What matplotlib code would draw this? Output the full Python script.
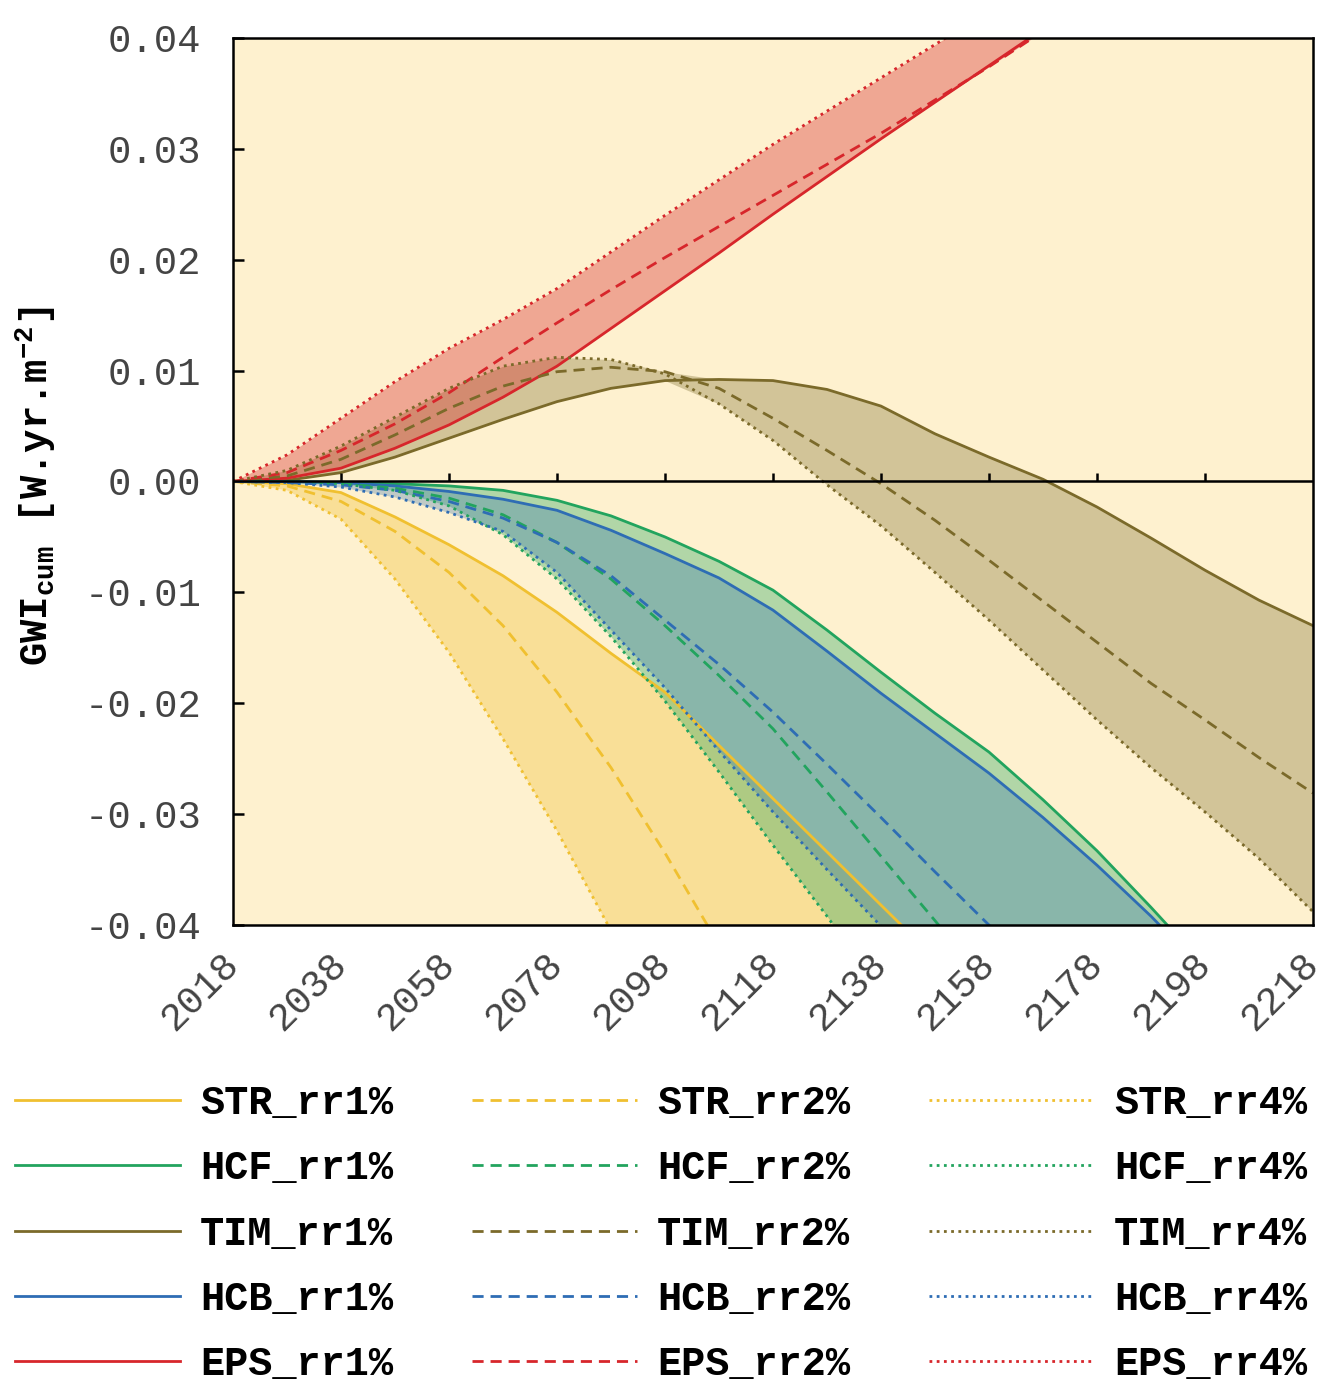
import numpy as np
import matplotlib.pyplot as plt

plt.rcParams['font.family'] = 'Liberation Mono'
plt.rcParams['mathtext.fontset'] = 'custom'
plt.rcParams['mathtext.rm'] = 'Liberation Mono:bold'
plt.rcParams['mathtext.it'] = 'Liberation Mono:bold'
plt.rcParams['mathtext.bf'] = 'Liberation Mono:bold'
plt.rcParams['axes.unicode_minus'] = False

# years every 10 from 2018 to 2218
years = np.arange(2018, 2219, 10)

# cumulative GWI [W.yr.m-2]
STR_rr1 = [0, -0.0002, -0.0010, -0.0032, -0.0057, -0.0085, -0.0118, -0.0155, -0.0190, -0.0238, -0.0286,
           -0.0334, -0.0382, -0.0430, -0.0478, -0.0526, -0.0574, -0.0622, -0.0670, -0.0718, -0.0766]
STR_rr2 = [0, -0.0004, -0.0018, -0.0045, -0.0082, -0.0130, -0.0190, -0.0258, -0.0335, -0.0418, -0.0500,
           -0.0580, -0.0660, -0.0740, -0.0820, -0.0900, -0.0980, -0.1060, -0.1140, -0.1220, -0.1300]
STR_rr4 = [0, -0.0008, -0.0034, -0.0088, -0.0154, -0.0232, -0.0315, -0.0405, -0.0500, -0.0600, -0.0700,
           -0.0800, -0.0900, -0.1000, -0.1100, -0.1200, -0.1300, -0.1400, -0.1500, -0.1600, -0.1700]

HCF_rr1 = [0, 0, -0.0001, -0.0002, -0.0004, -0.0008, -0.0017, -0.0031, -0.0050, -0.0072, -0.0098,
           -0.0134, -0.0172, -0.0209, -0.0244, -0.0287, -0.0333, -0.0384, -0.0437, -0.0490, -0.0545]
HCF_rr2 = [0, 0, -0.0002, -0.0006, -0.0015, -0.0030, -0.0055, -0.0088, -0.0130, -0.0175, -0.0223,
           -0.0280, -0.0338, -0.0396, -0.0455, -0.0515, -0.0575, -0.0635, -0.0695, -0.0755, -0.0815]
HCF_rr4 = [0, 0, -0.0002, -0.0008, -0.0022, -0.0048, -0.0088, -0.0140, -0.0198, -0.0262, -0.0328,
           -0.0392, -0.0460, -0.0530, -0.0600, -0.0670, -0.0740, -0.0810, -0.0880, -0.0950, -0.1020]

TIM_rr1 = [0, 0.0001, 0.0008, 0.0022, 0.0039, 0.0056, 0.0072, 0.0084, 0.0091, 0.0092, 0.0091,
           0.0083, 0.0068, 0.0043, 0.0022, 0.0002, -0.0023, -0.0051, -0.0080, -0.0107, -0.0130]
TIM_rr2 = [0, 0.0005, 0.0020, 0.0042, 0.0066, 0.0086, 0.0099, 0.0103, 0.0099, 0.0084, 0.0057,
           0.0028, -0.0002, -0.0035, -0.0071, -0.0108, -0.0145, -0.0182, -0.0215, -0.0249, -0.0281]
TIM_rr4 = [0, 0.0010, 0.0032, 0.0058, 0.0084, 0.0104, 0.0112, 0.0110, 0.0097, 0.0070, 0.0037,
           -0.0003, -0.0040, -0.0082, -0.0125, -0.0170, -0.0215, -0.0258, -0.0298, -0.0340, -0.0388]

HCB_rr1 = [0, 0, -0.0001, -0.0004, -0.0009, -0.0016, -0.0026, -0.0044, -0.0065, -0.0087, -0.0116,
           -0.0153, -0.0191, -0.0227, -0.0263, -0.0303, -0.0346, -0.0392, -0.0442, -0.0492, -0.0542]
HCB_rr2 = [0, -0.0001, -0.0003, -0.0008, -0.0018, -0.0033, -0.0055, -0.0085, -0.0125, -0.0165, -0.0208,
           -0.0255, -0.0303, -0.0352, -0.0400, -0.0450, -0.0500, -0.0550, -0.0600, -0.0650, -0.0700]
HCB_rr4 = [0, -0.0001, -0.0005, -0.0014, -0.0028, -0.0045, -0.0082, -0.0134, -0.0186, -0.0243, -0.0298,
           -0.0350, -0.0401, -0.0455, -0.0510, -0.0565, -0.0620, -0.0675, -0.0730, -0.0785, -0.0840]

EPS_rr1 = [0, 0.0003, 0.0012, 0.0030, 0.0051, 0.0076, 0.0104, 0.0138, 0.0172, 0.0206, 0.0241,
           0.0275, 0.0309, 0.0342, 0.0375, 0.0408, 0.0441, 0.0474, 0.0507, 0.0540, 0.0573]
EPS_rr2 = [0, 0.0008, 0.0028, 0.0052, 0.0080, 0.0112, 0.0143, 0.0173, 0.0202, 0.0230, 0.0258,
           0.0286, 0.0314, 0.0344, 0.0374, 0.0406, 0.0438, 0.0470, 0.0502, 0.0534, 0.0566]
EPS_rr4 = [0, 0.0024, 0.0057, 0.0090, 0.0120, 0.0146, 0.0174, 0.0207, 0.0240, 0.0272, 0.0304,
           0.0334, 0.0364, 0.0394, 0.0424, 0.0454, 0.0484, 0.0514, 0.0544, 0.0574, 0.0604]

names = ['STR', 'HCF', 'TIM', 'HCB', 'EPS']
series = {'STR': (STR_rr1, STR_rr2, STR_rr4),
          'HCF': (HCF_rr1, HCF_rr2, HCF_rr4),
          'TIM': (TIM_rr1, TIM_rr2, TIM_rr4),
          'HCB': (HCB_rr1, HCB_rr2, HCB_rr4),
          'EPS': (EPS_rr1, EPS_rr2, EPS_rr4)}
colors = {'STR': '#F0C030', 'HCF': '#22A45E', 'TIM': '#7B6A2A', 'HCB': '#2E6DB4', 'EPS': '#D7262B'}
fill_alpha = {'STR': 0.35, 'HCF': 0.35, 'TIM': 0.33, 'HCB': 0.3, 'EPS': 0.36}
rates = ['rr1%', 'rr2%', 'rr4%']
styles = ['-', (0, (4, 2.5)), (0, (1, 1.6))]

xticks = list(range(2018, 2219, 20))
yticks = [-0.04, -0.03, -0.02, -0.01, 0.0, 0.01, 0.02, 0.03, 0.04]
ytick_labels = ['-0.04', '-0.03', '-0.02', '-0.01', '0.00', '0.01', '0.02', '0.03', '0.04']

fig = plt.figure(figsize=(13.23, 13.95), dpi=100)
ax = fig.add_axes([0.1761, 0.3369, 0.8163, 0.6359])
ax.set_facecolor('#FEF1CF')

# envelopes
for n in names:
    rr = np.array(series[n])
    ax.fill_between(years, rr.min(axis=0), rr.max(axis=0), color=colors[n],
                    alpha=fill_alpha[n], lw=0, zorder=1)

# lines, ordered for the legend (column by column)
for i in range(3):
    for n in names:
        ax.plot(years, series[n][i], color=colors[n], ls=styles[i], lw=2,
                label=n + '_' + rates[i], zorder=2)

ax.axhline(0, color='k', lw=1.8, zorder=3)
ax.plot(xticks[1:-1], np.zeros(len(xticks) - 2), ls='none', marker=2, ms=6,
        mew=1.8, color='k', zorder=4)

ax.set_xlim(2018, 2218)
ax.set_ylim(-0.04, 0.04)
ax.set_xticks(xticks)
ax.set_xticklabels([str(x) for x in xticks], rotation=45, ha='right', va='center',
                   rotation_mode='anchor')
ax.set_yticks(yticks)
ax.set_yticklabels(ytick_labels)
ax.tick_params(axis='x', length=0, pad=24, labelsize=28, labelcolor='#444444')
ax.tick_params(axis='y', direction='in', length=8, width=1.8, pad=23, labelsize=28,
               labelcolor='#444444')
for s in ax.spines.values():
    s.set_linewidth(1.8)

ax.set_ylabel('GWI$_{cum}$ [W.yr.m$^{-2}$]', fontsize=28, fontweight='bold')
ax.yaxis.set_label_coords(-0.162, 0.495)

fig.legend(loc='upper left', bbox_to_anchor=(0.0113, 0.223), ncol=3, frameon=False,
           prop={'family': 'Liberation Mono', 'weight': 'bold', 'size': 29},
           handlelength=4.1, handletextpad=0.5, columnspacing=1.95, labelspacing=0.68,
           borderpad=0, borderaxespad=0)

plt.savefig('out.png', dpi=100)
